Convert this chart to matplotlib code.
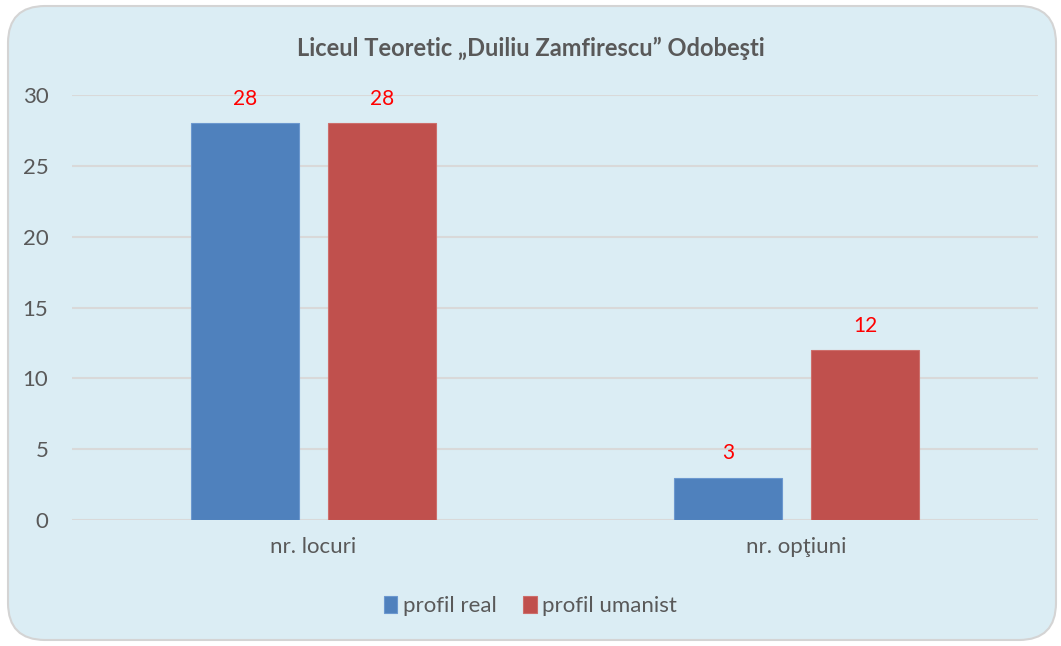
import matplotlib
matplotlib.use("Agg")
import matplotlib.pyplot as plt
from matplotlib.patches import FancyBboxPatch
import numpy as np

categories = ["nr. locuri", "nr. opţiuni"]
series_names = ["profil real", "profil umanist"]
profil_real = [28, 3]
profil_umanist = [28, 12]
yticks = [0, 5, 10, 15, 20, 25, 30]
title = "Liceul Teoretic „Duiliu Zamfirescu” Odobeşti"

plt.rcParams['font.family'] = ['Lato', 'DejaVu Sans']

fig = plt.figure(figsize=(10.61, 6.46), dpi=100)
fig.patch.set_facecolor("white")

# rounded background panel
panel = FancyBboxPatch((8/1061, 6/646), 1048/1061, 634/646,
                       boxstyle="round,pad=0,rounding_size=0.035",
                       transform=fig.transFigure, facecolor="#DBEDF4",
                       edgecolor="#D4D4D4", linewidth=1.5, mutation_aspect=1061/646,
                       zorder=-10)
fig.patches.append(panel)

ax = fig.add_axes([72/1061, 1-520/646, (1038-72)/1061, (520-95)/646])
ax.set_facecolor("none")
ax.set_zorder(2)

x = np.arange(len(categories))
w = 0.222
off = 0.142
b1 = ax.bar(x - off, profil_real, w, color="#4F81BD", edgecolor="#6C98CF", linewidth=0.8,
            label=series_names[0], zorder=3)
b2 = ax.bar(x + off, profil_umanist, w, color="#C0504D", edgecolor="#CD6E6B", linewidth=0.8,
            label=series_names[1], zorder=3)

for bars in (b1, b2):
    for r in bars:
        ax.text(r.get_x() + r.get_width()/2, r.get_height() + 1.0, f"{int(r.get_height())}",
                ha="center", va="bottom", color="#FF0000", fontsize=15)

ax.set_xlim(-0.5, 1.5)
ax.set_ylim(0, 30)
ax.set_yticks(yticks)
ax.set_yticklabels([str(t) for t in yticks])
ax.set_xticks(x)
ax.set_xticklabels(categories)
ax.tick_params(axis="both", length=0, labelsize=16, colors="#595959")
ax.tick_params(axis="y", pad=17)
ax.tick_params(axis="x", pad=12)
ax.yaxis.grid(True, color="#D9D9D9", linewidth=1.5, zorder=0)
ax.set_axisbelow(True)
for s in ax.spines.values():
    s.set_visible(False)

fig.text(0.5, 1-48/646, title, ha="center", va="center", fontsize=17,
         fontweight="bold", color="#595959")

leg = fig.legend(handles=[b1, b2], labels=series_names, loc="center",
                 bbox_to_anchor=(0.5, 1-606/646), ncol=2, frameon=False,
                 fontsize=16, handlelength=0.6, handleheight=0.8, handletextpad=0.25,
                 columnspacing=1.2)
for t in leg.get_texts():
    t.set_color("#595959")

fig.savefig("out.png", dpi=100, facecolor="white")
